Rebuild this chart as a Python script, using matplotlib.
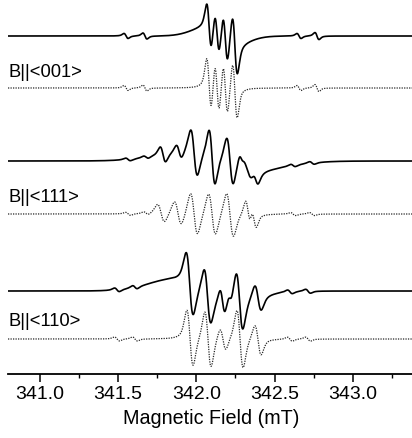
import numpy as np
import matplotlib
matplotlib.use("Agg")
import matplotlib.pyplot as plt
from matplotlib.ticker import MultipleLocator

plt.rcParams['font.family'] = ['Liberation Sans', 'DejaVu Sans']

# ---------------- data ----------------
# Each spectrum = sum of first-derivative lines: centre (mT), peak-to-peak amplitude (a.u.), peak-to-peak width (mT)
orient_labels = ["B||<001>", "B||<111>", "B||<110>"]
tick_values = [341.0, 341.5, 342.0, 342.5, 343.0]
tick_labels = ["341.0", "341.5", "342.0", "342.5", "343.0"]
x_label = "Magnetic Field (mT)"

# B || <001>, experiment
exp001_centers = [341.550, 341.671, 342.081, 342.132, 342.185, 342.246, 342.656, 342.771, 342.151]
exp001_amps    = [5, 6, 46, 40, 46, 58, 5, 7, 14]
exp001_widths  = [0.026, 0.026, 0.030, 0.030, 0.030, 0.032, 0.026, 0.026, 0.220]
# B || <001>, simulation
sim001_centers = [341.550, 341.671, 342.081, 342.132, 342.185, 342.246, 342.656, 342.771]
sim001_amps    = [5, 6, 54, 52, 52, 56, 5, 7]
sim001_widths  = [0.026, 0.026, 0.030, 0.030, 0.030, 0.030, 0.026, 0.026]

# B || <111>, experiment
exp111_centers = [341.563, 341.678, 341.786, 341.889, 341.985, 342.100, 342.215, 342.285, 342.324, 342.381, 342.618, 342.739, 342.164]
exp111_amps    = [3, 3, 16, 14, 46, 54, 48, 6, 26, 12, 3, 3, 16]
exp111_widths  = [0.032, 0.032, 0.035, 0.035, 0.042, 0.038, 0.042, 0.022, 0.077, 0.032, 0.032, 0.032, 0.480]
# B || <111>, simulation
sim111_centers = [341.563, 341.678, 341.774, 341.882, 341.985, 342.100, 342.215, 342.330, 342.368, 342.618, 342.739]
sim111_amps    = [3, 3, 18, 24, 42, 42, 44, 26, 22, 3, 3]
sim111_widths  = [0.032, 0.032, 0.045, 0.045, 0.045, 0.045, 0.045, 0.032, 0.032, 0.032, 0.032]

# B || <110>, experiment
exp110_centers = [341.492, 341.607, 341.957, 342.071, 342.167, 342.215, 342.276, 342.394, 342.598, 342.714, 342.023]
exp110_amps    = [4, 4, 60, 52, 24, 8, 58, 27, 4, 4, 22]
exp110_widths  = [0.032, 0.032, 0.044, 0.042, 0.032, 0.026, 0.042, 0.042, 0.032, 0.032, 0.384]
# B || <110>, simulation
sim110_centers = [341.492, 341.607, 341.959, 342.074, 342.170, 342.279, 342.394, 342.598, 342.714]
sim110_amps    = [4, 4, 56, 56, 22, 58, 30, 4, 4]
sim110_widths  = [0.032, 0.032, 0.040, 0.040, 0.038, 0.040, 0.040, 0.032, 0.032]

# ---------------- layout (pixel rows of each baseline) ----------------
W, H = 412, 438
ax_left_px, ax_bottom_px = 8, 374
baselines = [36, 88, 161, 214, 291, 339]
label_rows = [72, 197, 322]
BROAD = 0.1  # lines wider than this (mT) are drawn Gaussian


def deriv_line(b, c, a, wpp, eta):
    # pseudo-Voigt first derivative normalised to peak-to-peak amplitude a and width wpp
    gamma = wpp * np.sqrt(3) / 2.0
    u = (b - c) / gamma
    lor = -2 * u / (1 + u ** 2) ** 2 / 1.299
    sigma = wpp / 2.0
    v = (b - c) / sigma
    gau = -v * np.exp(-v ** 2 / 2) / 1.2131
    return a * (eta * lor + (1 - eta) * gau)


def spectrum(b, centers, amps, widths, eta):
    y = np.zeros_like(b)
    for c, a, w in zip(centers, amps, widths):
        y += deriv_line(b, c, a, w, 0.0 if w > BROAD else eta)
    return y


fig = plt.figure(figsize=(W / 100, H / 100), dpi=100)
ax = fig.add_axes([ax_left_px / W, (H - ax_bottom_px) / H, (W - ax_left_px) / W, ax_bottom_px / H])

xmin = 341.0 + (ax_left_px - 40) / 156.4
xmax = 341.0 + (W - 40) / 156.4
field = np.linspace(xmin, xmax, 4000)

traces = [
    (exp001_centers, exp001_amps, exp001_widths, 'exp'),
    (sim001_centers, sim001_amps, sim001_widths, 'sim'),
    (exp111_centers, exp111_amps, exp111_widths, 'exp'),
    (sim111_centers, sim111_amps, sim111_widths, 'sim'),
    (exp110_centers, exp110_amps, exp110_widths, 'exp'),
    (sim110_centers, sim110_amps, sim110_widths, 'sim'),
]

for (cs, amps, ws, kind), base in zip(traces, baselines):
    if kind == 'exp':
        y = spectrum(field, cs, amps, ws, 0.6) - base
        ax.plot(field, y, color='black', lw=1.2, solid_joinstyle='round')
    else:
        y = spectrum(field, cs, amps, ws, 0.5) - base
        ax.plot(field, y, color='0.15', lw=0.9, linestyle=(0, (1, 1)))

for lab, row in zip(orient_labels, label_rows):
    ax.text(0.0, -row, lab, transform=ax.get_yaxis_transform(), ha='left', va='center',
            fontsize=13.2)

ax.set_xlim(xmin, xmax)
ax.set_ylim(-ax_bottom_px, 0)
for s in ['top', 'right', 'left']:
    ax.spines[s].set_visible(False)
ax.spines['bottom'].set_linewidth(1.3)
ax.set_yticks([])
ax.set_xticks(tick_values)
ax.set_xticklabels(tick_labels)
ax.xaxis.set_minor_locator(MultipleLocator(0.25))
ax.tick_params(axis='x', which='major', direction='out', length=5.8, width=1.1, labelsize=14, pad=2.5)
ax.tick_params(axis='x', which='minor', direction='out', length=3.0, width=1.0)

fig.text(211.5 / W, 1 - 418 / H, x_label, ha='center', va='center', fontsize=14.2)

fig.savefig("out.png", dpi=100)
